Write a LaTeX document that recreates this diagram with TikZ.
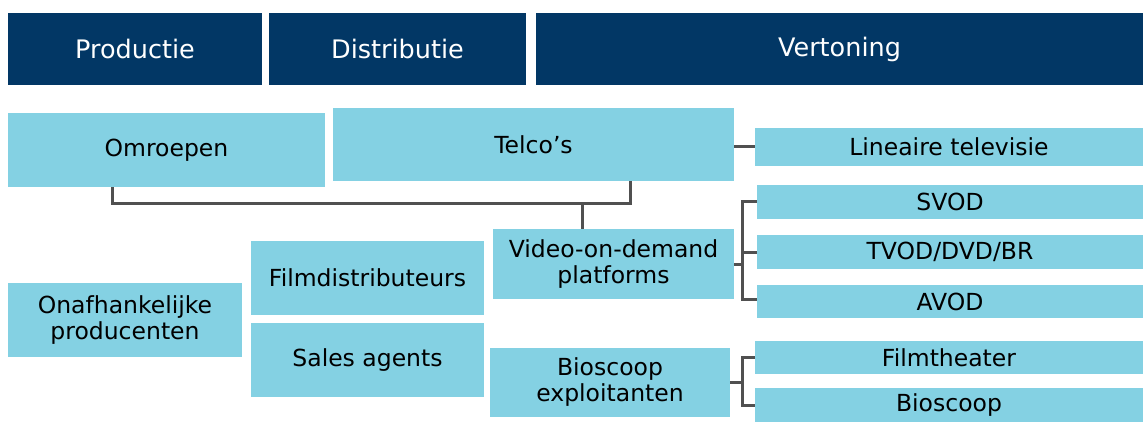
\documentclass[tikz,border=0pt]{standalone}
\usepackage{fontspec}
\setmainfont{DejaVu Sans}
\usepackage{tikz}
\usetikzlibrary{positioning}
\definecolor{navy}{RGB}{2,55,101}
\definecolor{lightblue}{RGB}{132,209,227}
\definecolor{linkgray}{RGB}{80,80,80}
\tikzstyle{link} = [draw=linkgray, line width=3pt]
\tikzstyle{every box} = [rectangle, inner sep=0pt, align=center, font=\fontsize{23.5}{26}\selectfont]
\tikzstyle{phase} = [every box, fill=navy, text=white, font=\fontsize{25.5}{28}\selectfont]
\tikzstyle{actor} = [every box, fill=lightblue, text=black]

\begin{document}
\begin{tikzpicture} [x=1pt, y=-1pt]
\useasboundingbox (0,0) rectangle (1143,422);

% Phases

\node[phase, minimum width=254pt, minimum height=72pt] (productie) at (135,49) {Productie};

\node[phase, minimum width=257pt, minimum height=72pt] (distributie) at (397.5,49) {Distributie};

\node[phase, minimum width=607pt, minimum height=72pt] (vertoning) at (839.5,49) {Vertoning};

% Omroepen and Telco's

\node[actor, minimum width=317pt, minimum height=74pt] (omroepen) at (166.5,150) {Omroepen};

\node[actor, minimum width=401pt, minimum height=73pt] (telco) at (533.5,144.5) {Telco’s};

\node[actor, minimum width=388pt, minimum height=38pt] (lineair) at (949,147) {Lineaire televisie};

\draw[link] (lineair.west -| telco.east) -- (lineair.west);

% Video-on-demand

\node[actor, minimum width=241pt, minimum height=70pt] (vod) at (613.5,264) {Video-on-demand\\platforms};

\coordinate (join) at (582,204);

\draw[link] ([xshift=-54pt]omroepen.south) |- (join) -| ([xshift=96.5pt]telco.south);
\draw[link] (join) -- (vod.north -| join);

\node[actor, minimum width=386pt, minimum height=34pt] (svod) at (950,202) {SVOD};

\node[actor, minimum width=386pt, minimum height=34pt] (tvod) at (950,252) {TVOD/DVD/BR};

\node[actor, minimum width=386pt, minimum height=33pt] (avod) at (950,301.5) {AVOD};

\coordinate (vodfork) at (742,264);

\draw[link] (vod.east) -- (vodfork);
\draw[link] (svod.west) -| ([yshift=2pt]avod.west -| vodfork) -- ([yshift=2pt]avod.west);
\draw[link] (tvod.west) -- (tvod.west -| vodfork);

% Onafhankelijke producenten

\node[actor, minimum width=234pt, minimum height=74pt] (onafh) at (125,320) {Onafhankelijke\\producenten};

\node[actor, minimum width=233pt, minimum height=74pt] (filmdist) at (367.5,278) {Filmdistributeurs};

\node[actor, minimum width=233pt, minimum height=74pt] (sales) at (367.5,360) {Sales agents};

% Bioscoop

\node[actor, minimum width=240pt, minimum height=69pt] (biosexpl) at (610,382.5) {Bioscoop\\exploitanten};

\node[actor, minimum width=388pt, minimum height=33pt] (filmtheater) at (949,357.5) {Filmtheater};

\node[actor, minimum width=388pt, minimum height=34pt] (bioscoop) at (949,405) {Bioscoop};

\coordinate (biosfork) at (742,382.5);

\draw[link] (biosexpl.east) -- (biosfork);
\draw[link] (filmtheater.west) -| (bioscoop.west -| biosfork) -- (bioscoop.west);

\end{tikzpicture}
\end{document}
